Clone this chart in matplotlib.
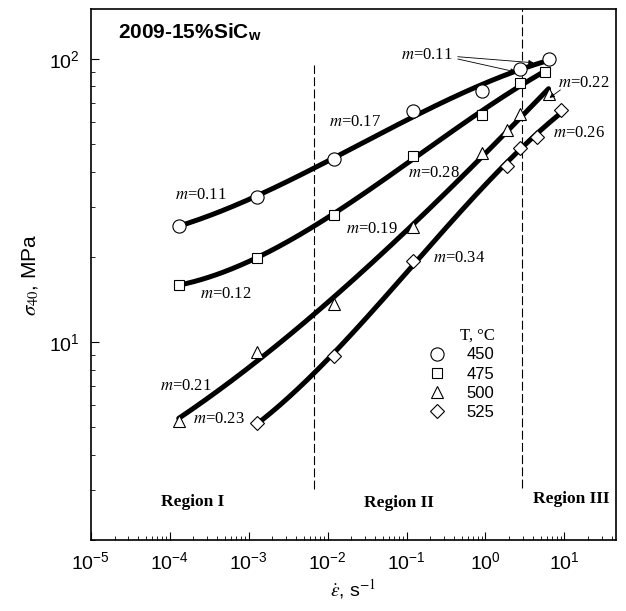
import matplotlib
matplotlib.use("Agg")
import matplotlib.pyplot as plt
import numpy as np
from matplotlib.ticker import FixedLocator, NullFormatter

plt.rcParams["font.family"] = ["Liberation Sans", "DejaVu Sans"]
plt.rcParams["mathtext.fontset"] = "stix"
plt.rcParams["axes.unicode_minus"] = False

# strain rate (s^-1) and flow stress sigma_40 (MPa)
RATE_450 = [1.3e-4, 1.26e-3, 1.22e-2, 0.12, 0.91, 2.7, 6.3]
STRESS_450 = [25.8, 32.6, 44.2, 65.6, 77.4, 92.2, 100.0]

RATE_475 = [1.3e-4, 1.26e-3, 1.22e-2, 0.12, 0.91, 2.7, 5.6]
STRESS_475 = [15.9, 19.9, 28.2, 45.4, 63.5, 82.2, 89.9]

RATE_500 = [1.3e-4, 1.26e-3, 1.22e-2, 0.12, 0.91, 1.85, 2.7, 6.3]
STRESS_500 = [5.26, 9.2, 13.6, 25.5, 46.4, 56.1, 64.0, 75.1]

RATE_525 = [1.26e-3, 1.22e-2, 0.12, 1.85, 2.73, 4.5, 9.1]
STRESS_525 = [5.17, 8.94, 19.4, 41.9, 48.7, 52.9, 66.1]

TEMPS = ["450", "475", "500", "525"]
MARKERS = ["o", "s", "^", "D"]
MARKER_SIZES = [9.5, 7.8, 8.8, 7.5]

X_DECADES = [-5, -4, -3, -2, -1, 0, 1]
Y_DECADES = [1, 2]

# region boundaries (strain rate) and the dashed-line extents
REGION_BOUNDS = [6.7e-3, 2.92]
REGION_BOUND_LOW = [3.04, 3.05]
REGION_BOUND_HIGH = [95.4, 150.0]
REGION_NAMES = ["Region I", "Region II", "Region III"]
REGION_LABEL_X = [1.95e-4, 0.079, 12.1]
REGION_LABEL_Y = [2.72, 2.70, 2.79]

# strain-rate-sensitivity labels: text, x, y
M_LABELS = [
    ("0.17", 0.0105, 60.0),
    ("0.28", 0.104, 39.5),
    ("0.11", 1.16e-4, 33.0),
    ("0.12", 2.4e-4, 14.8),
    ("0.19", 0.0172, 25.2),
    ("0.34", 0.215, 19.9),
    ("0.21", 7.5e-5, 7.0),
    ("0.23", 2.0e-4, 5.35),
    ("0.26", 7.26, 54.8),
]


def fit_curve(rate, stress, deg=3):
    lx, ly = np.log10(rate), np.log10(stress)
    coef = np.polyfit(lx, ly, deg)
    xs = np.linspace(lx.min(), lx.max(), 200)
    return 10 ** xs, 10 ** np.polyval(coef, xs)


fig = plt.figure(figsize=(6.26, 6.11), dpi=100)
ax = fig.add_axes([0.145, 0.116, 0.839, 0.869])

series = [(RATE_450, STRESS_450), (RATE_475, STRESS_475),
          (RATE_500, STRESS_500), (RATE_525, STRESS_525)]
handles = []
for (rate, stress), mk, ms, lab in zip(series, MARKERS, MARKER_SIZES, TEMPS):
    cx, cy = fit_curve(rate, stress)
    ax.plot(cx, cy, color="black", lw=3.6, solid_capstyle="round", zorder=2)
    h, = ax.plot(rate, stress, linestyle="none", marker=mk, ms=ms, mfc="white",
                 mec="black", mew=0.8, zorder=3, label=lab)
    handles.append(h)

for xb, lo, hi in zip(REGION_BOUNDS, REGION_BOUND_LOW, REGION_BOUND_HIGH):
    ax.plot([xb, xb], [lo, hi], color="black", lw=0.8, ls=(0, (8, 3)), zorder=1)

for name, x, y in zip(REGION_NAMES, REGION_LABEL_X, REGION_LABEL_Y):
    ax.text(x, y, name, ha="center", va="center", fontsize=12.5, fontweight="bold",
            family="Liberation Serif")

for val, x, y in M_LABELS:
    ax.text(x, y, f"$m$={val}", ha="left", va="center", fontsize=12,
            family="Liberation Serif")

# labels with leader arrows
ax.text(0.085, 103.6, "$m$=0.11", ha="left", va="center", fontsize=12,
        family="Liberation Serif")
arrow = dict(arrowstyle="-|>", lw=0.6, color="black", mutation_scale=7,
             shrinkA=0, shrinkB=0)
ax.annotate("", xy=(4.07, 97.0), xytext=(0.446, 101.9), arrowprops=arrow)
ax.annotate("", xy=(2.4, 90.1), xytext=(0.446, 100.0), arrowprops=arrow)
ax.text(8.4, 82.4, "$m$=0.22", ha="left", va="center", fontsize=12,
        family="Liberation Serif")
ax.annotate("", xy=(6.47, 72.9), xytext=(8.9, 77.8), arrowprops=arrow)

ax.text(0.052, 0.957, r"2009-15%SiC$_\mathregular{w}$", transform=ax.transAxes,
        ha="left", va="center", fontsize=15, fontweight="bold")

leg = ax.legend(handles=handles, loc="upper left", bbox_to_anchor=(0.643, 0.401),
                frameon=False, fontsize=12, handlelength=1.0, handletextpad=1.3,
                labelspacing=0.25, borderpad=0, borderaxespad=0,
                title="T, °C", alignment="right",
                title_fontproperties={"family": "Liberation Serif", "size": 12})

ax.set_xscale("log")
ax.set_yscale("log")
ax.set_xlim(1e-5, 45)
ax.set_ylim(2, 150)

# fixed ticks so nothing is placed outside the axes range
ax.set_xticks([10.0 ** d for d in X_DECADES],
              [rf"$\mathdefault{{10^{{{d}}}}}$" for d in X_DECADES])
x_minor = [m * 10.0 ** d for d in X_DECADES for m in range(2, 10) if m * 10.0 ** d <= 45]
ax.xaxis.set_minor_locator(FixedLocator(x_minor))
ax.set_yticks([10.0 ** d for d in Y_DECADES],
              [rf"$\mathdefault{{10^{{{d}}}}}$" for d in Y_DECADES])
y_minor = [m * 10.0 ** d for d in [0, 1, 2] for m in range(2, 10) if 2 <= m * 10.0 ** d <= 150]
ax.yaxis.set_minor_locator(FixedLocator(y_minor))
ax.xaxis.set_minor_formatter(NullFormatter())
ax.yaxis.set_minor_formatter(NullFormatter())

ax.tick_params(which="both", direction="in", top=False, right=False, labelsize=14)
ax.tick_params(which="major", length=6, width=0.8, pad=8)
ax.tick_params(which="minor", length=3, width=0.6)
for sp in ax.spines.values():
    sp.set_linewidth(1.2)

ax.set_xlabel(r"$\dot{\varepsilon}$, s$^{-1}$", fontsize=14, labelpad=3)
ax.set_ylabel(r"$\sigma_{40}$, MPa", fontsize=15, labelpad=6)

fig.savefig("out.png", dpi=100)
plt.close(fig)
